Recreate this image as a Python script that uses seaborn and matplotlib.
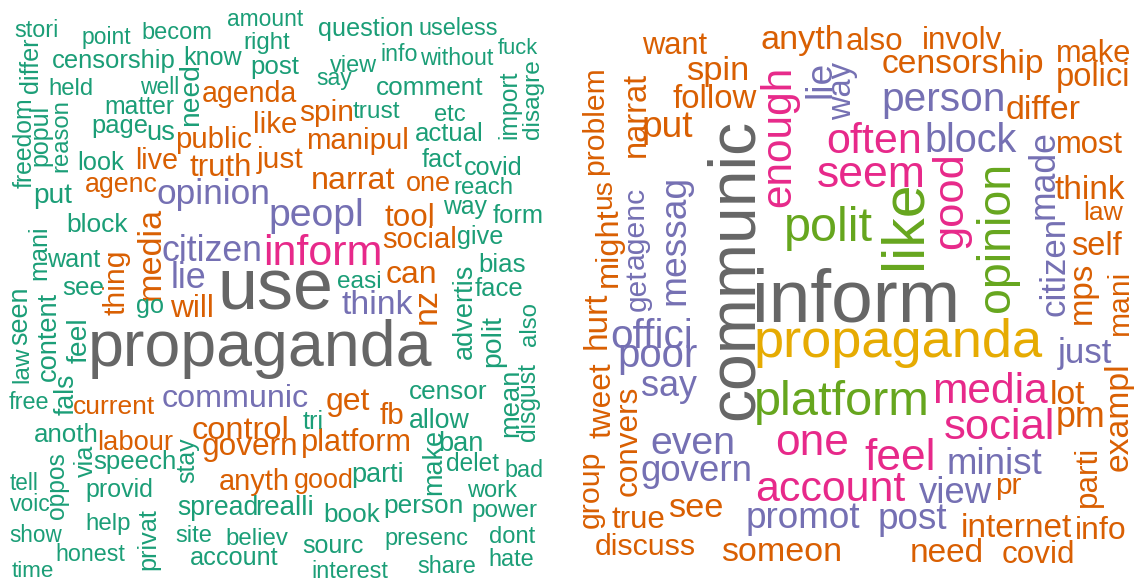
import matplotlib
matplotlib.use('Agg')
import matplotlib.pyplot as plt
from matplotlib.textpath import TextPath
from matplotlib.font_manager import FontProperties
import seaborn as sns

sns.set_theme(style='white')
plt.rcParams['font.family'] = ['Liberation Sans', 'DejaVu Sans']

DPI = 100
W, H = 1134, 581
PALETTE = sns.color_palette('Dark2')
FONT = FontProperties(family='Liberation Sans')

# ---- data: words of each cloud, grouped by frequency tier (colour) ----
left_tier1 = ['use', 'propaganda']
left_tier2 = ['inform']
left_tier3 = ['opinion', 'peopl', 'citizen', 'lie', 'think', 'communic']
left_tier4 = ['agenda', 'like', 'spin', 'manipul', 'public', 'truth', 'just', 'live',
              'narrat', 'agenc', 'one', 'tool', 'social', 'media', 'thing', 'will', 'can',
              'nz', 'current', 'labour', 'control', 'govern', 'get', 'fb', 'platform',
              'anyth', 'good']
left_tier5 = ['stori', 'point', 'becom', 'amount', 'question', 'useless', 'differ',
              'censorship', 'know', 'right', 'view', 'info', 'without', 'fuck', 'held',
              'well', 'need', 'post', 'say', 'comment', 'import', 'disagre', 'freedom',
              'popul', 'reason', 'matter', 'trust', 'etc', 'page', 'us', 'actual', 'look',
              'fact', 'covid', 'reach', 'put', 'way', 'form', 'block', 'give', 'mani',
              'want', 'easi', 'bias', 'see', 'go', 'advertis', 'face', 'law', 'seen',
              'content', 'feel', 'polit', 'also', 'free', 'fals', 'censor', 'mean',
              'disgust', 'anoth', 'tri', 'allow', 'via', 'oppos', 'speech', 'ban', 'make',
              'tell', 'stay', 'provid', 'parti', 'delet', 'bad', 'voic', 'spread',
              'realli', 'person', 'work', 'show', 'help', 'privat', 'site', 'believ',
              'book', 'power', 'honest', 'account', 'sourc', 'presenc', 'dont', 'time',
              'interest', 'share', 'hate']
left_tiers = [left_tier1, left_tier2, left_tier3, left_tier4, left_tier5]
left_tier_colors = [7, 3, 2, 1, 0]

right_tier1 = ['communic', 'inform']
right_tier2 = ['propaganda']
right_tier3 = ['polit', 'like', 'opinion', 'platform']
right_tier4 = ['enough', 'often', 'seem', 'good', 'media', 'social', 'one', 'feel', 'account']
right_tier5 = ['lie', 'way', 'person', 'block', 'made', 'messag', 'get', 'agenc', 'citizen',
               'offici', 'poor', 'say', 'just', 'even', 'govern', 'minist', 'view',
               'promot', 'post']
right_tier6 = ['want', 'anyth', 'also', 'involv', 'make', 'spin', 'censorship', 'polici',
               'follow', 'differ', 'problem', 'narrat', 'put', 'most', 'us', 'might',
               'think', 'law', 'self', 'mps', 'mani', 'hurt', 'lot', 'tweet', 'pm',
               'exampl', 'parti', 'convers', 'group', 'pr', 'see', 'true', 'internet',
               'info', 'discuss', 'someon', 'need', 'covid']
right_tiers = [right_tier1, right_tier2, right_tier3, right_tier4, right_tier5, right_tier6]
right_tier_colors = [7, 5, 4, 3, 2, 1]

# ---- layout: ink box of each word in pixels (x0, y0, x1, y1, vertical) ----
left_layout = {
    'use': (222, 266, 330, 315, 0), 'propaganda': (92, 318, 432, 381, 0),
    'inform': (266, 233, 380, 267, 0), 'opinion': (158, 180, 268, 210, 0),
    'peopl': (271, 200, 362, 232, 0), 'citizen': (163, 237, 260, 260, 0),
    'lie': (173, 262, 205, 288, 0), 'think': (342, 288, 413, 315, 0),
    'communic': (163, 383, 308, 408, 0), 'agenda': (203, 85, 297, 105, 0),
    'like': (255, 110, 296, 135, 0), 'spin': (300, 100, 352, 127, 0),
    'manipul': (308, 128, 407, 155, 0), 'public': (177, 128, 251, 152, 0),
    'truth': (190, 152, 250, 177, 0), 'just': (256, 143, 303, 178, 0),
    'live': (137, 147, 177, 170, 0), 'narrat': (313, 167, 395, 190, 0),
    'agenc': (86, 178, 157, 198, 0), 'one': (407, 175, 450, 193, 0),
    'tool': (385, 203, 433, 227, 0), 'social': (383, 227, 455, 248, 0),
    'media': (137, 207, 157, 298, 1), 'thing': (105, 252, 128, 315, 1),
    'will': (170, 293, 212, 317, 0), 'can': (387, 265, 435, 285, 0),
    'nz': (418, 290, 435, 322, 1), 'current': (74, 395, 155, 417, 0),
    'labour': (99, 430, 173, 450, 0), 'control': (193, 417, 287, 437, 0),
    'govern': (203, 437, 296, 463, 0), 'get': (327, 388, 370, 417, 0),
    'fb': (380, 402, 403, 425, 0), 'platform': (303, 428, 410, 458, 0),
    'anyth': (220, 472, 288, 493, 0), 'good': (295, 470, 352, 492, 0),
    'stori': (15, 21, 57, 36, 0), 'point': (83, 28, 131, 48, 0),
    'becom': (143, 22, 211, 39, 0), 'amount': (228, 10, 303, 27, 0),
    'question': (319, 18, 412, 40, 0), 'useless': (420, 18, 497, 36, 0),
    'differ': (21, 38, 37, 92, 1), 'censorship': (53, 50, 175, 73, 0),
    'know': (185, 47, 242, 65, 0), 'right': (245, 33, 290, 53, 0),
    'view': (330, 55, 377, 72, 0), 'info': (382, 43, 417, 63, 0),
    'without': (420, 47, 493, 67, 0), 'fuck': (498, 38, 538, 55, 0),
    'held': (50, 78, 92, 95, 0), 'well': (140, 77, 178, 94, 0),
    'need': (180, 65, 197, 124, 1), 'post': (252, 58, 299, 78, 0),
    'say': (317, 70, 352, 93, 0), 'comment': (377, 78, 483, 95, 0),
    'import': (502, 70, 518, 137, 1), 'disagre': (523, 60, 543, 138, 1),
    'freedom': (13, 99, 32, 188, 1), 'popul': (33, 106, 49, 164, 1),
    'reason': (53, 100, 69, 170, 1), 'matter': (106, 98, 174, 115, 0),
    'trust': (353, 100, 400, 120, 0), 'etc': (435, 105, 465, 122, 0),
    'page': (93, 118, 147, 140, 0), 'us': (148, 125, 174, 140, 0),
    'actual': (416, 122, 482, 142, 0), 'look': (79, 152, 124, 170, 0),
    'fact': (422, 148, 462, 168, 0), 'covid': (465, 155, 521, 177, 0),
    'reach': (455, 177, 512, 193, 0), 'put': (35, 188, 72, 205, 0),
    'way': (443, 198, 487, 222, 0), 'form': (493, 205, 542, 223, 0),
    'block': (68, 213, 128, 232, 0), 'give': (458, 227, 502, 247, 0),
    'mani': (30, 227, 45, 278, 1), 'want': (47, 250, 100, 268, 0),
    'easi': (338, 272, 380, 287, 0), 'bias': (480, 253, 525, 272, 0),
    'see': (63, 280, 103, 297, 0), 'go': (137, 300, 163, 318, 0),
    'advertis': (452, 265, 473, 358, 1), 'face': (475, 277, 522, 297, 0),
    'law': (11, 346, 28, 381, 1), 'seen': (13, 288, 28, 344, 1),
    'content': (40, 292, 55, 380, 1), 'feel': (67, 320, 87, 363, 1),
    'polit': (483, 315, 502, 365, 1), 'also': (520, 303, 535, 345, 1),
    'free': (9, 392, 48, 410, 0), 'fals': (57, 375, 72, 415, 1),
    'censor': (410, 383, 487, 402, 0), 'mean': (503, 370, 518, 435, 1),
    'disgust': (520, 363, 537, 440, 1), 'anoth': (35, 423, 97, 442, 0),
    'tri': (303, 412, 322, 428, 0), 'allow': (410, 408, 470, 428, 0),
    'via': (77, 445, 90, 477, 1), 'oppos': (52, 453, 67, 518, 1),
    'speech': (94, 452, 175, 473, 0), 'ban': (440, 432, 482, 450, 0),
    'make': (423, 430, 440, 493, 1), 'tell': (10, 473, 37, 490, 0),
    'stay': (180, 437, 197, 482, 1), 'provid': (87, 480, 152, 502, 0),
    'parti': (353, 465, 402, 485, 0), 'delet': (447, 453, 499, 472, 0),
    'bad': (506, 460, 542, 478, 0), 'voic': (10, 495, 50, 510, 0),
    'spread': (178, 498, 257, 518, 0), 'realli': (257, 497, 312, 513, 0),
    'person': (385, 497, 462, 520, 0), 'work': (467, 480, 517, 497, 0),
    'show': (10, 525, 62, 542, 0), 'help': (87, 513, 130, 535, 0),
    'privat': (140, 508, 157, 568, 1), 'site': (176, 525, 211, 543, 0),
    'believ': (227, 527, 288, 545, 0), 'book': (325, 503, 380, 523, 0),
    'power': (473, 503, 537, 522, 0), 'honest': (57, 543, 125, 562, 0),
    'account': (191, 548, 278, 566, 0), 'sourc': (303, 538, 363, 555, 0),
    'presenc': (386, 532, 468, 550, 0), 'dont': (490, 525, 535, 545, 0),
    'time': (12, 560, 53, 577, 0), 'interest': (313, 561, 388, 578, 0),
    'share': (418, 557, 475, 573, 0), 'hate': (490, 548, 533, 567, 0),
}

right_layout = {
    'communic': (705, 120, 753, 417, 1), 'inform': (757, 265, 955, 325, 0),
    'propaganda': (757, 320, 1043, 365, 0), 'polit': (787, 205, 873, 252, 0),
    'like': (880, 183, 918, 265, 1), 'opinion': (978, 165, 1015, 310, 1),
    'platform': (757, 380, 927, 425, 0), 'enough': (762, 68, 797, 205, 1),
    'often': (828, 123, 919, 152, 0), 'seem': (818, 160, 923, 190, 0),
    'good': (935, 155, 967, 247, 1), 'media': (935, 373, 1048, 403, 0),
    'social': (945, 408, 1052, 438, 0), 'one': (777, 432, 847, 455, 0),
    'feel': (865, 438, 933, 470, 0), 'account': (757, 473, 905, 502, 0),
    'lie': (806, 62, 828, 95, 1), 'way': (832, 62, 860, 120, 1),
    'person': (884, 90, 1003, 118, 0), 'block': (927, 123, 1017, 152, 0),
    'made': (1028, 132, 1053, 217, 1), 'messag': (667, 178, 690, 303, 1),
    'get': (623, 270, 655, 310, 1), 'agenc': (623, 188, 655, 268, 1),
    'citizen': (1038, 220, 1067, 315, 1), 'offici': (612, 323, 690, 345, 0),
    'poor': (620, 348, 697, 372, 0), 'say': (642, 378, 697, 403, 0),
    'just': (1057, 340, 1112, 367, 0), 'even': (652, 432, 733, 455, 0),
    'govern': (642, 460, 750, 490, 0), 'minist': (949, 448, 1042, 473, 0),
    'view': (919, 477, 992, 503, 0), 'promot': (748, 505, 860, 535, 0),
    'post': (880, 508, 947, 533, 0), 'want': (642, 35, 707, 53, 0),
    'anyth': (762, 27, 842, 53, 0), 'also': (847, 30, 902, 48, 0),
    'involv': (924, 28, 1002, 48, 0), 'make': (1058, 42, 1130, 60, 0),
    'spin': (687, 60, 747, 83, 0), 'censorship': (883, 53, 1043, 75, 0),
    'polici': (1058, 65, 1128, 90, 0), 'follow': (673, 85, 757, 107, 0),
    'differ': (1007, 97, 1080, 117, 0), 'problem': (583, 68, 607, 173, 1),
    'narrat': (623, 72, 645, 155, 1), 'put': (644, 115, 693, 143, 0),
    'most': (1058, 133, 1123, 153, 0), 'us': (595, 180, 613, 207, 1),
    'might': (597, 208, 620, 285, 1), 'think': (1055, 175, 1125, 200, 0),
    'law': (1085, 200, 1123, 222, 0), 'self': (1072, 232, 1122, 255, 0),
    'mps': (1075, 263, 1095, 322, 1), 'mani': (1108, 272, 1127, 333, 1),
    'hurt': (582, 292, 605, 347, 1), 'lot': (1052, 380, 1085, 403, 0),
    'tweet': (590, 363, 610, 438, 1), 'pm': (1058, 408, 1103, 435, 0),
    'exampl': (1108, 365, 1130, 470, 1), 'parti': (1077, 448, 1098, 505, 1),
    'convers': (618, 387, 638, 495, 1), 'group': (582, 452, 605, 527, 1),
    'pr': (997, 477, 1021, 502, 0), 'see': (669, 498, 722, 517, 0),
    'true': (612, 508, 664, 528, 0), 'internet': (963, 513, 1072, 537, 0),
    'info': (1077, 517, 1125, 538, 0), 'discuss': (596, 533, 695, 555, 0),
    'someon': (722, 542, 840, 563, 0), 'need': (912, 538, 982, 563, 0),
    'covid': (1003, 540, 1073, 563, 0),
}


def draw_word(ax, word, box, color):
    x0, y0, x1, y1, vertical = box
    ext = TextPath((0, 0), word, size=1, prop=FONT).get_extents()
    length = (y1 - y0) if vertical else (x1 - x0)
    s = length / ext.width                     # pixels per em
    mid = (ext.y0 + ext.y1) / 2 * s            # ink middle above baseline
    if vertical:
        ax_x = (x0 + x1) / 2 + mid
        ax_y = y1 + ext.x0 * s
        rot = 90
    else:
        ax_x = x0 - ext.x0 * s
        ax_y = (y0 + y1) / 2 + mid
        rot = 0
    ax.text(ax_x, ax_y, word, fontproperties=FONT, fontsize=s * 72 / DPI,
            color=color, rotation=rot, rotation_mode='anchor',
            ha='left', va='baseline', clip_on=False)


def draw_cloud(ax, tiers, tier_colors, layout):
    for words, ci in zip(tiers, tier_colors):
        for w in words:
            draw_word(ax, w, layout[w], PALETTE[ci])


fig = plt.figure(figsize=(W / DPI, H / DPI), dpi=DPI)
fig.patch.set_facecolor('white')
ax_l = fig.add_axes([0, 0, 0.5, 1])
ax_r = fig.add_axes([0.5, 0, 0.5, 1])
for ax, lim in [(ax_l, (0, W / 2)), (ax_r, (W / 2, W))]:
    ax.set_xlim(*lim)
    ax.set_ylim(H, 0)
    ax.axis('off')

draw_cloud(ax_l, left_tiers, left_tier_colors, left_layout)
draw_cloud(ax_r, right_tiers, right_tier_colors, right_layout)

fig.savefig('out.png', dpi=DPI)
